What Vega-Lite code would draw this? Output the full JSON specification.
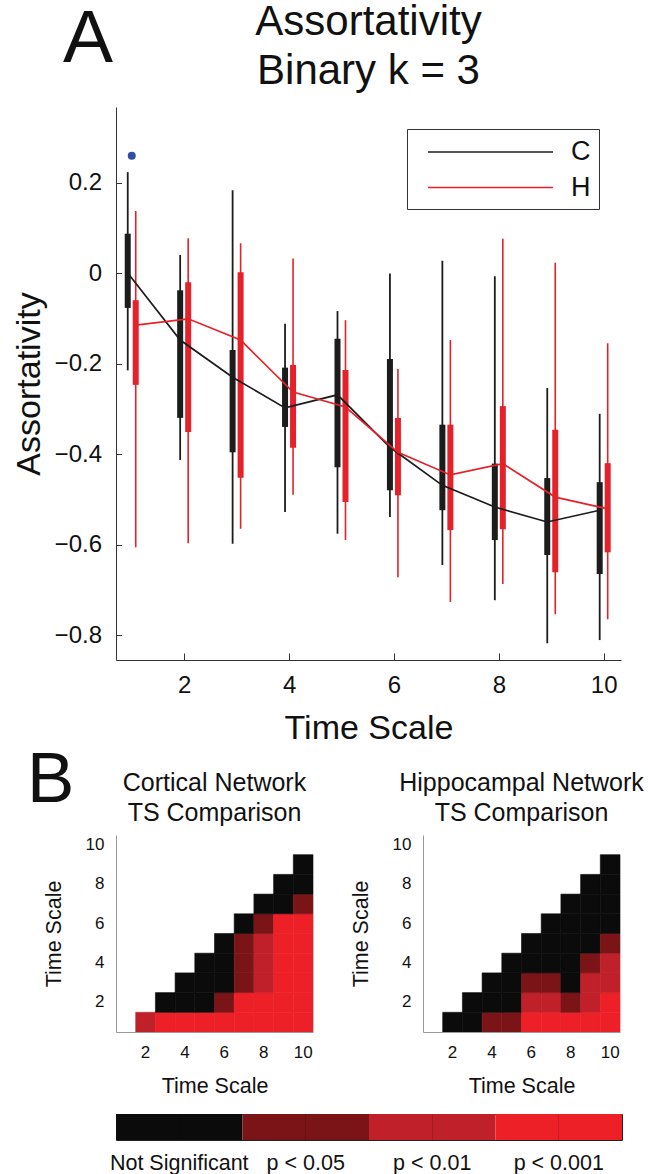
{
  "$schema": "https://vega.github.io/schema/vega-lite/v6.json",
  "background": "white",
  "padding": {"left": 12, "top": 0, "right": 0, "bottom": 0},
  "config": {
    "font": "Liberation Sans",
    "view": {"stroke": null},
    "title": {"fontWeight": "normal", "color": "#111"},
    "axis": {"labelColor": "#111", "titleColor": "#111", "titleFontWeight": "normal", "grid": false}
  },
  "datasets": {
    "stats": [
      {"t": 1, "g": "C", "whi": 0.223, "bhi": 0.087, "blo": -0.077, "wlo": -0.215, "m": 0.0},
      {"t": 1, "g": "H", "whi": 0.137, "bhi": -0.06, "blo": -0.247, "wlo": -0.606, "m": -0.115},
      {"t": 2, "g": "C", "whi": 0.04, "bhi": -0.038, "blo": -0.32, "wlo": -0.413, "m": -0.148},
      {"t": 2, "g": "H", "whi": 0.077, "bhi": -0.02, "blo": -0.351, "wlo": -0.597, "m": -0.101},
      {"t": 3, "g": "C", "whi": 0.183, "bhi": -0.17, "blo": -0.396, "wlo": -0.598, "m": -0.23},
      {"t": 3, "g": "H", "whi": 0.066, "bhi": 0.002, "blo": -0.452, "wlo": -0.565, "m": -0.148},
      {"t": 4, "g": "C", "whi": -0.112, "bhi": -0.209, "blo": -0.34, "wlo": -0.528, "m": -0.298},
      {"t": 4, "g": "H", "whi": 0.032, "bhi": -0.203, "blo": -0.386, "wlo": -0.49, "m": -0.263},
      {"t": 5, "g": "C", "whi": -0.084, "bhi": -0.145, "blo": -0.429, "wlo": -0.576, "m": -0.269},
      {"t": 5, "g": "H", "whi": -0.104, "bhi": -0.214, "blo": -0.506, "wlo": -0.59, "m": -0.296},
      {"t": 6, "g": "C", "whi": -0.001, "bhi": -0.19, "blo": -0.48, "wlo": -0.539, "m": -0.385},
      {"t": 6, "g": "H", "whi": -0.212, "bhi": -0.32, "blo": -0.491, "wlo": -0.672, "m": -0.396},
      {"t": 7, "g": "C", "whi": 0.027, "bhi": -0.335, "blo": -0.524, "wlo": -0.645, "m": -0.469},
      {"t": 7, "g": "H", "whi": -0.148, "bhi": -0.335, "blo": -0.568, "wlo": -0.727, "m": -0.446},
      {"t": 8, "g": "C", "whi": -0.007, "bhi": -0.421, "blo": -0.59, "wlo": -0.723, "m": -0.517},
      {"t": 8, "g": "H", "whi": 0.076, "bhi": -0.294, "blo": -0.566, "wlo": -0.687, "m": -0.421},
      {"t": 9, "g": "C", "whi": -0.254, "bhi": -0.453, "blo": -0.623, "wlo": -0.818, "m": -0.55},
      {"t": 9, "g": "H", "whi": 0.023, "bhi": -0.346, "blo": -0.661, "wlo": -0.754, "m": -0.495},
      {"t": 10, "g": "C", "whi": -0.311, "bhi": -0.462, "blo": -0.665, "wlo": -0.811, "m": -0.524},
      {"t": 10, "g": "H", "whi": -0.155, "bhi": -0.42, "blo": -0.617, "wlo": -0.765, "m": -0.521}
    ],
    "heat": [
      {"n": "C", "x": 2, "y": 1, "s": 2}, {"n": "C", "x": 3, "y": 1, "s": 3}, {"n": "C", "x": 4, "y": 1, "s": 3}, {"n": "C", "x": 5, "y": 1, "s": 3}, {"n": "C", "x": 6, "y": 1, "s": 3}, {"n": "C", "x": 7, "y": 1, "s": 3}, {"n": "C", "x": 8, "y": 1, "s": 3}, {"n": "C", "x": 9, "y": 1, "s": 3}, {"n": "C", "x": 10, "y": 1, "s": 3},
      {"n": "C", "x": 3, "y": 2, "s": 0}, {"n": "C", "x": 4, "y": 2, "s": 0}, {"n": "C", "x": 5, "y": 2, "s": 0}, {"n": "C", "x": 6, "y": 2, "s": 1}, {"n": "C", "x": 7, "y": 2, "s": 3}, {"n": "C", "x": 8, "y": 2, "s": 3}, {"n": "C", "x": 9, "y": 2, "s": 3}, {"n": "C", "x": 10, "y": 2, "s": 3},
      {"n": "C", "x": 4, "y": 3, "s": 0}, {"n": "C", "x": 5, "y": 3, "s": 0}, {"n": "C", "x": 6, "y": 3, "s": 0}, {"n": "C", "x": 7, "y": 3, "s": 1}, {"n": "C", "x": 8, "y": 3, "s": 2}, {"n": "C", "x": 9, "y": 3, "s": 3}, {"n": "C", "x": 10, "y": 3, "s": 3},
      {"n": "C", "x": 5, "y": 4, "s": 0}, {"n": "C", "x": 6, "y": 4, "s": 0}, {"n": "C", "x": 7, "y": 4, "s": 1}, {"n": "C", "x": 8, "y": 4, "s": 2}, {"n": "C", "x": 9, "y": 4, "s": 3}, {"n": "C", "x": 10, "y": 4, "s": 3},
      {"n": "C", "x": 6, "y": 5, "s": 0}, {"n": "C", "x": 7, "y": 5, "s": 1}, {"n": "C", "x": 8, "y": 5, "s": 2}, {"n": "C", "x": 9, "y": 5, "s": 3}, {"n": "C", "x": 10, "y": 5, "s": 3},
      {"n": "C", "x": 7, "y": 6, "s": 0}, {"n": "C", "x": 8, "y": 6, "s": 1}, {"n": "C", "x": 9, "y": 6, "s": 3}, {"n": "C", "x": 10, "y": 6, "s": 3},
      {"n": "C", "x": 8, "y": 7, "s": 0}, {"n": "C", "x": 9, "y": 7, "s": 0}, {"n": "C", "x": 10, "y": 7, "s": 1},
      {"n": "C", "x": 9, "y": 8, "s": 0}, {"n": "C", "x": 10, "y": 8, "s": 0},
      {"n": "C", "x": 10, "y": 9, "s": 0},
      {"n": "H", "x": 2, "y": 1, "s": 0}, {"n": "H", "x": 3, "y": 1, "s": 0}, {"n": "H", "x": 4, "y": 1, "s": 1}, {"n": "H", "x": 5, "y": 1, "s": 1}, {"n": "H", "x": 6, "y": 1, "s": 3}, {"n": "H", "x": 7, "y": 1, "s": 3}, {"n": "H", "x": 8, "y": 1, "s": 3}, {"n": "H", "x": 9, "y": 1, "s": 3}, {"n": "H", "x": 10, "y": 1, "s": 3},
      {"n": "H", "x": 3, "y": 2, "s": 0}, {"n": "H", "x": 4, "y": 2, "s": 0}, {"n": "H", "x": 5, "y": 2, "s": 0}, {"n": "H", "x": 6, "y": 2, "s": 2}, {"n": "H", "x": 7, "y": 2, "s": 2}, {"n": "H", "x": 8, "y": 2, "s": 1}, {"n": "H", "x": 9, "y": 2, "s": 2}, {"n": "H", "x": 10, "y": 2, "s": 3},
      {"n": "H", "x": 4, "y": 3, "s": 0}, {"n": "H", "x": 5, "y": 3, "s": 0}, {"n": "H", "x": 6, "y": 3, "s": 1}, {"n": "H", "x": 7, "y": 3, "s": 1}, {"n": "H", "x": 8, "y": 3, "s": 0}, {"n": "H", "x": 9, "y": 3, "s": 2}, {"n": "H", "x": 10, "y": 3, "s": 2},
      {"n": "H", "x": 5, "y": 4, "s": 0}, {"n": "H", "x": 6, "y": 4, "s": 0}, {"n": "H", "x": 7, "y": 4, "s": 0}, {"n": "H", "x": 8, "y": 4, "s": 0}, {"n": "H", "x": 9, "y": 4, "s": 1}, {"n": "H", "x": 10, "y": 4, "s": 2},
      {"n": "H", "x": 6, "y": 5, "s": 0}, {"n": "H", "x": 7, "y": 5, "s": 0}, {"n": "H", "x": 8, "y": 5, "s": 0}, {"n": "H", "x": 9, "y": 5, "s": 0}, {"n": "H", "x": 10, "y": 5, "s": 1},
      {"n": "H", "x": 7, "y": 6, "s": 0}, {"n": "H", "x": 8, "y": 6, "s": 0}, {"n": "H", "x": 9, "y": 6, "s": 0}, {"n": "H", "x": 10, "y": 6, "s": 0},
      {"n": "H", "x": 8, "y": 7, "s": 0}, {"n": "H", "x": 9, "y": 7, "s": 0}, {"n": "H", "x": 10, "y": 7, "s": 0},
      {"n": "H", "x": 9, "y": 8, "s": 0}, {"n": "H", "x": 10, "y": 8, "s": 0},
      {"n": "H", "x": 10, "y": 9, "s": 0}
    ],
    "cbar": [
      {"s": 0, "label": "Not Significant"},
      {"s": 1, "label": "p < 0.05"},
      {"s": 2, "label": "p < 0.01"},
      {"s": 3, "label": "p < 0.001"}
    ]
  },
  "resolve": {"scale": {"color": "independent", "stroke": "independent"}, "legend": {"stroke": "independent", "color": "independent"}},
  "spacing": 0,
  "vconcat": [
    {
      "title": {"text": "A", "anchor": "start", "fontSize": 75, "offset": -77, "dx": 51},
      "resolve": {"scale": {"stroke": "independent"}, "legend": {"stroke": "independent"}},
      "vconcat": [
        {
          "width": 505,
          "height": 553,
          "title": {"text": ["Assortativity", "Binary k = 3"], "fontSize": 42, "lineHeight": 49.5, "anchor": "middle", "offset": 14},
          "data": {"name": "stats"},
          "encoding": {
            "x": {
              "field": "t", "type": "quantitative",
              "scale": {"domain": [0.7, 10.33], "nice": false, "zero": false},
              "axis": {"values": [2, 4, 6, 8, 10], "format": "d", "tickSize": -7, "tickColor": "#333", "domainColor": "#333", "labelFontSize": 24, "labelPadding": 20, "title": "Time Scale", "titleFontSize": 34, "titlePadding": 14}
            }
          },
          "layer": [
            {
              "transform": [{"filter": "datum.g == 'C'"}],
              "mark": {"type": "rule", "strokeWidth": 1.8, "color": "#1c1c1c", "xOffset": -4},
              "encoding": {
                "y": {
                  "field": "wlo", "type": "quantitative",
                  "scale": {"domain": [-0.855, 0.367], "nice": false, "zero": false},
                  "axis": {"values": [-0.8, -0.6, -0.4, -0.2, 0, 0.2], "labelExpr": "datum.value == 0 ? '0' : format(datum.value, '.1f')", "tickSize": -5.5, "tickColor": "#333", "domainColor": "#333", "labelFontSize": 24, "labelPadding": 20, "title": "Assortativity", "titleFontSize": 34, "titlePadding": 8}
                },
                "y2": {"field": "whi"}
              }
            },
            {
              "transform": [{"filter": "datum.g == 'C'"}],
              "mark": {"type": "rule", "strokeWidth": 6, "color": "#1c1c1c", "xOffset": -4},
              "encoding": {"y": {"field": "blo", "type": "quantitative"}, "y2": {"field": "bhi"}}
            },
            {
              "transform": [{"filter": "datum.g == 'H'"}],
              "mark": {"type": "rule", "strokeWidth": 1.6, "color": "#e52129", "xOffset": 4},
              "encoding": {"y": {"field": "wlo", "type": "quantitative"}, "y2": {"field": "whi"}}
            },
            {
              "transform": [{"filter": "datum.g == 'H'"}],
              "mark": {"type": "rule", "strokeWidth": 6, "color": "#e52129", "xOffset": 4},
              "encoding": {"y": {"field": "blo", "type": "quantitative"}, "y2": {"field": "bhi"}}
            },
            {
              "transform": [{"filter": "datum.g == 'C'"}],
              "mark": {"type": "line", "strokeWidth": 1.7, "xOffset": -4},
              "encoding": {
                "y": {"field": "m", "type": "quantitative"},
                "stroke": {
                  "field": "g", "type": "nominal",
                  "scale": {"domain": ["C", "H"], "range": ["#1c1c1c", "#e52129"]},
                  "legend": {"title": null, "orient": "top-right", "offset": 22, "strokeColor": "#333", "fillColor": "white", "padding": 8.5, "labelFontSize": 27, "labelColor": "#111", "symbolType": "M-4.63,0H4.63", "symbolSize": 729, "symbolStrokeWidth": 1.6, "symbolOffset": 60.5, "labelOffset": 66, "rowPadding": 7.5}
                }
              }
            },
            {
              "transform": [{"filter": "datum.g == 'H'"}],
              "mark": {"type": "line", "strokeWidth": 1.7, "xOffset": 4},
              "encoding": {
                "y": {"field": "m", "type": "quantitative"},
                "stroke": {"field": "g", "type": "nominal"}
              }
            },
            {
              "data": {"values": [{"t": 1, "sig": 0.259}]},
              "mark": {"type": "point", "filled": true, "size": 64, "color": "#2f4fa5", "opacity": 1},
              "encoding": {"y": {"field": "sig", "type": "quantitative"}}
            }
          ]
        }
      ]
    },
    {
      "title": {"text": "B", "anchor": "start", "fontSize": 71, "offset": -46, "dx": -16},
      "spacing": 16,
      "vconcat": [
        {
          "spacing": 36,
          "hconcat": [
            {
              "title": {"text": ["Cortical Network", "TS Comparison"], "fontSize": 25, "lineHeight": 30, "offset": 9},
              "width": 197, "height": 197,
              "data": {"name": "heat"},
              "transform": [{"filter": "datum.n == 'C'"}],
              "mark": {"type": "rect", "strokeWidth": 0.6},
              "encoding": {
                "x": {"field": "x", "type": "ordinal", "scale": {"domain": [1, 2, 3, 4, 5, 6, 7, 8, 9, 10], "paddingInner": 0, "paddingOuter": 0}, "axis": {"values": [2, 4, 6, 8, 10], "ticks": false, "domainColor": "#999", "labelAngle": 0, "labelFontSize": 17, "labelPadding": 12, "title": "Time Scale", "titleFontSize": 21.5, "titlePadding": 15}},
                "y": {"field": "y", "type": "ordinal", "scale": {"domain": [10, 9, 8, 7, 6, 5, 4, 3, 2, 1], "paddingInner": 0, "paddingOuter": 0}, "axis": {"values": [2, 4, 6, 8, 10], "ticks": false, "domainColor": "#999", "labelFontSize": 17, "labelPadding": 12, "title": "Time Scale", "titleFontSize": 21.5, "titlePadding": 20}},
                "color": {"field": "s", "type": "ordinal", "scale": {"domain": [0, 1, 2, 3], "range": ["#0b0b0b", "#7b1417", "#c0202a", "#ed2027"]}, "legend": null},
                "stroke": {"field": "s", "type": "ordinal", "scale": {"domain": [0, 1, 2, 3], "range": ["#0b0b0b", "#7b1417", "#c0202a", "#ed2027"]}, "legend": null}
              }
            },
            {
              "title": {"text": ["Hippocampal Network", "TS Comparison"], "fontSize": 25, "lineHeight": 30, "offset": 9},
              "width": 197, "height": 197,
              "data": {"name": "heat"},
              "transform": [{"filter": "datum.n == 'H'"}],
              "mark": {"type": "rect", "strokeWidth": 0.6},
              "encoding": {
                "x": {"field": "x", "type": "ordinal", "scale": {"domain": [1, 2, 3, 4, 5, 6, 7, 8, 9, 10], "paddingInner": 0, "paddingOuter": 0}, "axis": {"values": [2, 4, 6, 8, 10], "ticks": false, "domainColor": "#999", "labelAngle": 0, "labelFontSize": 17, "labelPadding": 12, "title": "Time Scale", "titleFontSize": 21.5, "titlePadding": 15}},
                "y": {"field": "y", "type": "ordinal", "scale": {"domain": [10, 9, 8, 7, 6, 5, 4, 3, 2, 1], "paddingInner": 0, "paddingOuter": 0}, "axis": {"values": [2, 4, 6, 8, 10], "ticks": false, "domainColor": "#999", "labelFontSize": 17, "labelPadding": 12, "title": "Time Scale", "titleFontSize": 21.5, "titlePadding": 20}},
                "color": {"field": "s", "type": "ordinal", "scale": {"domain": [0, 1, 2, 3], "range": ["#0b0b0b", "#7b1417", "#c0202a", "#ed2027"]}, "legend": null},
                "stroke": {"field": "s", "type": "ordinal", "scale": {"domain": [0, 1, 2, 3], "range": ["#0b0b0b", "#7b1417", "#c0202a", "#ed2027"]}, "legend": null}
              }
            }
          ]
        },
        {
          "width": 506, "height": 26,
          "view": {"stroke": "#222", "strokeWidth": 1},
          "data": {"name": "cbar"},
          "mark": {"type": "rect"},
          "encoding": {
            "x": {"field": "label", "type": "nominal", "sort": null, "scale": {"paddingInner": 0, "paddingOuter": 0}, "axis": {"title": null, "ticks": false, "domain": false, "labelAngle": 0, "labelFontSize": 21.5, "labelPadding": 12, "grid": true, "gridColor": "#000", "gridOpacity": 0.15, "bandPosition": 0.5, "zindex": 1}},
            "color": {"field": "s", "type": "ordinal", "scale": {"domain": [0, 1, 2, 3], "range": ["#0b0b0b", "#7b1417", "#c0202a", "#ed2027"]}, "legend": null}
          }
        }
      ]
    }
  ]
}
